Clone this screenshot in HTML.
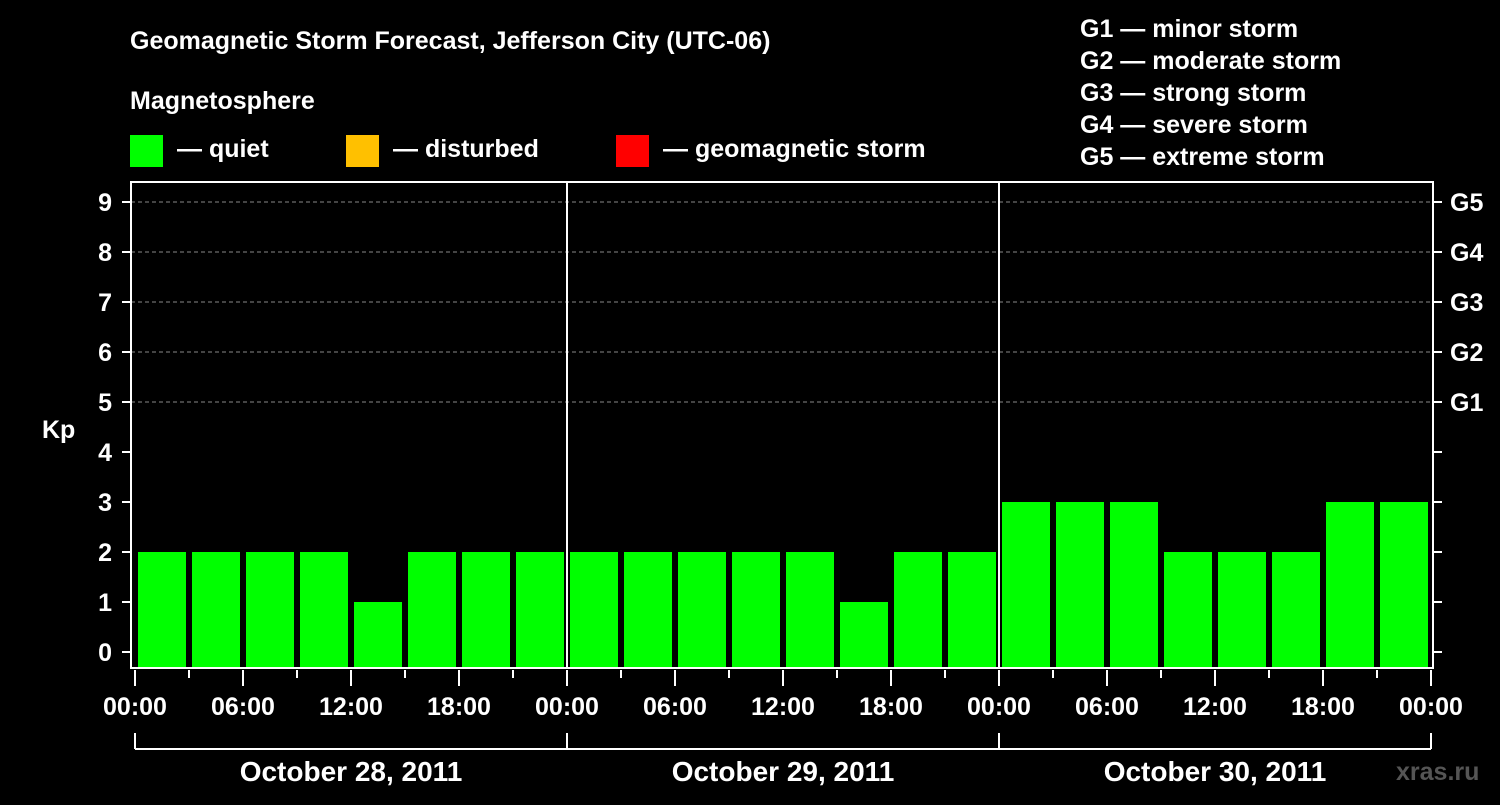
<!DOCTYPE html>
<html><head><meta charset="utf-8"><style>
body{margin:0;background:#000;width:1500px;height:800px;overflow:hidden}
svg text{font-family:"Liberation Sans",sans-serif;font-weight:bold;fill:#fff}
</style></head><body>
<svg id="c" width="1500" height="800">
<text x="130" y="49" font-size="25">Geomagnetic Storm Forecast, Jefferson City (UTC-06)</text>
<text x="130" y="109" font-size="25">Magnetosphere</text>
<rect x="130" y="135" width="33" height="32" fill="#00ff00"/>
<text x="177" y="157" font-size="25">— quiet</text>
<rect x="346" y="135" width="33" height="32" fill="#ffc000"/>
<text x="393" y="157" font-size="25">— disturbed</text>
<rect x="616" y="135" width="33" height="32" fill="#ff0000"/>
<text x="663" y="157" font-size="25">— geomagnetic storm</text>
<g font-size="25">
<text x="1080" y="37">G1 — minor storm</text>
<text x="1080" y="69">G2 — moderate storm</text>
<text x="1080" y="101">G3 — strong storm</text>
<text x="1080" y="133">G4 — severe storm</text>
<text x="1080" y="165">G5 — extreme storm</text>
</g>
<text x="42" y="438" font-size="25">Kp</text>
<text x="1396" y="780" font-size="25" fill="#555" style="fill:#555">xras.ru</text>
<g id="g"></g>
</svg>
<script>
const kpValues=[2,2,2,2,1,2,2,2, 2,2,2,2,2,1,2,2, 3,3,3,2,2,2,3,3];
const dayLabels=["October 28, 2011","October 29, 2011","October 30, 2011"];
const hourLabels=["00:00","06:00","12:00","18:00"];
const gLabels=["G1","G2","G3","G4","G5"];
const ns="http://www.w3.org/2000/svg";
const g=document.getElementById('g');
const X0=135,DAY=432,STEP=54,L=131,R=1433,T=182,B=668;
const y=v=>652-50*v;
const xs=i=>X0+i*STEP;
function mk(t,a,txt){const e=document.createElementNS(ns,t);for(const k in a)e.setAttribute(k,a[k]);if(txt!==undefined)e.textContent=txt;g.appendChild(e);return e;}
for(let v=5;v<=9;v++){const e=mk('line',{x1:L,x2:R,y1:y(v),y2:y(v),stroke:'#888','stroke-dasharray':'4,3'});

}
kpValues.forEach((v,i)=>{const col=v>=5?'#ff0000':v>=4?'#ffc000':'#00ff00';
const e=mk('rect',{x:xs(i)+3,y:y(v),width:48,height:B-y(v),fill:col});

});
for(let d=1;d<3;d++){const e=mk('line',{x1:X0+d*DAY,x2:X0+d*DAY,y1:T,y2:B,stroke:'#fff','stroke-width':2});

}
const fr=mk('rect',{x:L,y:T,width:R-L,height:B-T,fill:'none',stroke:'#fff','stroke-width':2});


for(let v=0;v<=9;v++){
mk('line',{x1:122,x2:L,y1:y(v),y2:y(v),stroke:'#fff','stroke-width':2});
mk('line',{x1:R,x2:1442,y1:y(v),y2:y(v),stroke:'#fff','stroke-width':2});
const t=mk('text',{x:112,y:y(v)+9,'font-size':25,'text-anchor':'end'},String(v));

}
gLabels.forEach((s,i)=>{const t=mk('text',{x:1450,y:y(5+i)+9,'font-size':25},s);

});
for(let i=0;i<=24;i++){const x=xs(i),major=i%2==0;
mk('line',{x1:x,x2:x,y1:670,y2:major?686:678,stroke:'#fff','stroke-width':2});
if(major){const t=mk('text',{x:x,y:715,'font-size':25,'text-anchor':'middle'},hourLabels[(i/2)%4]);

}}
mk('line',{x1:X0,x2:X0+3*DAY,y1:749,y2:749,stroke:'#fff','stroke-width':2});
for(let d=0;d<=3;d++)mk('line',{x1:X0+d*DAY,x2:X0+d*DAY,y1:733,y2:749,stroke:'#fff','stroke-width':2});
dayLabels.forEach((s,d)=>{const t=mk('text',{x:X0+d*DAY+DAY/2,y:781,'font-size':28,'text-anchor':'middle'},s);

});
</script>
</body></html>
